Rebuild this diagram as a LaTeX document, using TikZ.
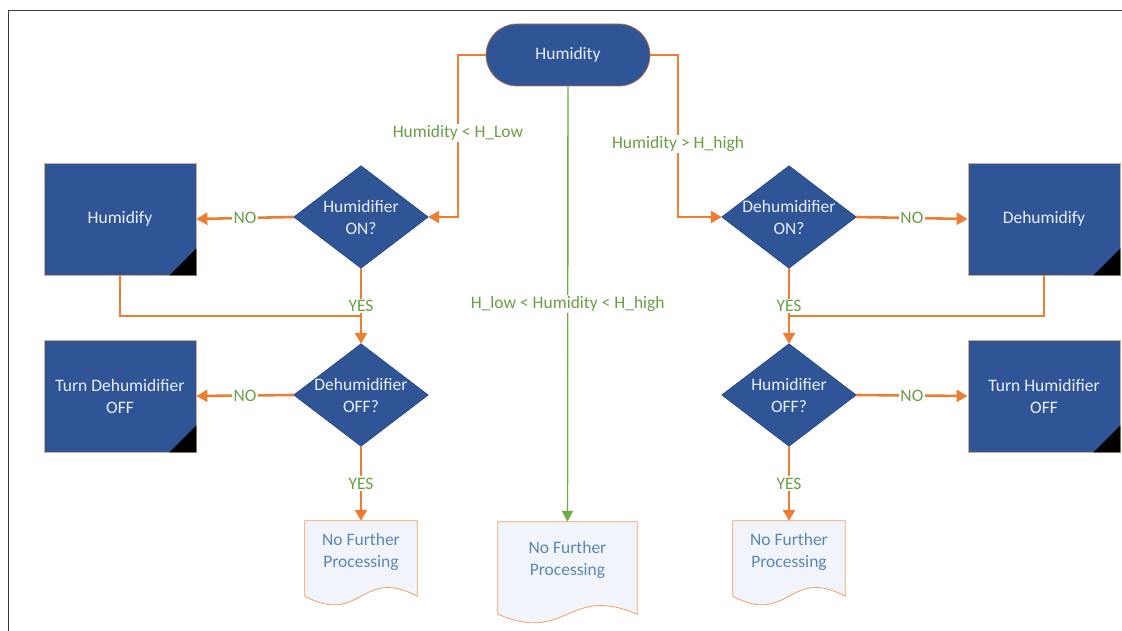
\documentclass[tikz,border=0pt]{standalone}
\usepackage{fontspec}
\setmainfont{Carlito}
\usetikzlibrary{arrows.meta,calc,backgrounds}

\definecolor{flowblue}{HTML}{2F5597}
\definecolor{flowedge}{HTML}{24457E}
\definecolor{boxrim}{HTML}{D2AE88}
\definecolor{boxtext}{HTML}{E8EEF8}
\definecolor{flowor}{HTML}{ED7D31}
\definecolor{flowgreen}{HTML}{70AD47}
\definecolor{lbltext}{HTML}{6A9E45}
\definecolor{docfill}{HTML}{F1F4FA}
\definecolor{doctext}{HTML}{5A87B4}
\definecolor{framegray}{HTML}{3A3A3A}

\tikzset{
  x=1pt, y=-1pt,
  basefont/.style={font=\fontsize{17.5}{22}\selectfont},
  terminal/.style={basefont, rectangle, rounded corners=31pt, fill=flowblue,
    draw=flowor!70!flowblue, line width=0.8pt, text=boxtext,
    minimum width=164pt, minimum height=62pt, inner sep=0pt},
  decision/.style={basefont, rectangle, draw=none, text=boxtext, align=center,
    minimum width=134pt, minimum height=102pt, inner sep=0pt},
  actionbox/.style={basefont, rectangle, fill=flowblue, draw=boxrim, line width=0.8pt,
    text=boxtext, align=center, minimum width=152pt, minimum height=112pt, inner sep=0pt},
  docbox/.style={basefont, rectangle, draw=none, text=doctext, align=center, inner sep=0pt},
  docline/.style={draw=flowor!75!white, line width=0.8pt, fill=docfill},
  oline/.style={draw=flowor, line width=2.6pt},
  oarrow/.style={oline, -{Triangle[length=11pt,width=12pt]}},
  garrow/.style={draw=flowgreen, line width=1.4pt, -{Triangle[length=11pt,width=11pt]}},
  lbl/.style={basefont, text=lbltext, fill=white, inner sep=1.5pt},
}

% diamond drawn behind a decision node, touching its four side anchors
\newcommand\decisionshape[1]{%
  \fill[flowblue, draw=flowedge, line width=0.6pt]
    (#1.north) -- (#1.east) -- (#1.south) -- (#1.west) -- cycle;}
% black corner mark of an action box
\newcommand\boxcorner[1]{%
  \fill[black] ($(#1.south east)+(-27,0)$) -- (#1.south east) -- ($(#1.south east)+(0,-27)$) -- cycle;}
% document outline with a wavy lower edge: name, drop below node, wave amplitude
\newcommand\docoutline[3]{%
  \path[docline] (#1.north west) -- (#1.north east) -- ($(#1.south east)+(0,#2)$)
    .. controls ($(#1.south)+(0,#2-#3)$) and ($(#1.south)+(0,#2+#3)$)
    .. ($(#1.south west)+(0,#2)$) -- cycle;}

\begin{document}
\begin{tikzpicture}
\useasboundingbox (0,0) rectangle (1122,631);
\draw[framegray, line width=1pt] (8,631) -- (8,11) -- (1122,11);

% nodes
\node[terminal] (term) at (568,55) {Humidity};

\node[decision] (hon)    at (361,217) {Humidifier\\ON?};
\node[actionbox] (hfy)   at (120,219) {Humidify};
\node[decision] (dehoff) at (361,395) {Dehumidifier\\OFF?};
\node[actionbox] (tdo)   at (120,396) {Turn Dehumidifier\\OFF};
\node[docbox, minimum width=112pt, minimum height=62pt] (docl) at (361,552) {No Further\\Processing};

\node[docbox, minimum width=139pt, minimum height=76pt] (docm) at (567.5,560) {No Further\\Processing};

\node[decision] (don)    at (789,217) {Dehumidifier\\ON?};
\node[actionbox] (dhfy)  at (1044,219) {Dehumidify};
\node[decision] (hoff)   at (789,395) {Humidifier\\OFF?};
\node[actionbox] (tho)   at (1044,396) {Turn Humidifier\\OFF};
\node[docbox, minimum width=112pt, minimum height=62pt] (docr) at (789,552) {No Further\\Processing};

\begin{pgfonlayer}{background}
  \decisionshape{hon}
  \decisionshape{dehoff}
  \decisionshape{don}
  \decisionshape{hoff}
  \docoutline{docl}{13}{30}
  \docoutline{docm}{16}{30}
  \docoutline{docr}{13}{30}
\end{pgfonlayer}

\boxcorner{hfy}
\boxcorner{tdo}
\boxcorner{dhfy}
\boxcorner{tho}

% routing points
\coordinate (lturn) at (458,55);
\coordinate (rturn) at (678,55);
\coordinate (jl) at (361,316);
\coordinate (jr) at (789,316);

% left branch
\draw[oarrow] (term.west) -- (lturn) -- node[lbl, pos=0.48] {Humidity < H\_Low} (lturn |- hon.east) -- (hon.east);
\draw[oarrow] (hon.west) -- node[lbl] {NO} (hfy.east);
\draw[oline] (hfy.south) |- (jl);
\draw[oarrow] (hon.south) -- node[lbl, pos=0.5] {YES} (dehoff.north);
\draw[oarrow] (dehoff.west) -- node[lbl] {NO} (tdo.east);
\draw[oarrow] (dehoff.south) -- node[lbl] {YES} (docl.north);

% middle branch
\draw[garrow] (term.south) -- node[lbl, pos=0.499] {H\_low < Humidity < H\_high} (docm.north);

% right branch
\draw[oarrow] (term.east) -- (rturn) -- node[lbl, pos=0.55] {Humidity > H\_high} (rturn |- don.west) -- (don.west);
\draw[oarrow] (don.east) -- node[lbl] {NO} (dhfy.west);
\draw[oline] (dhfy.south) |- (jr);
\draw[oarrow] (don.south) -- node[lbl, pos=0.5] {YES} (hoff.north);
\draw[oarrow] (hoff.east) -- node[lbl] {NO} (tho.west);
\draw[oarrow] (hoff.south) -- node[lbl] {YES} (docr.north);
\end{tikzpicture}
\end{document}
